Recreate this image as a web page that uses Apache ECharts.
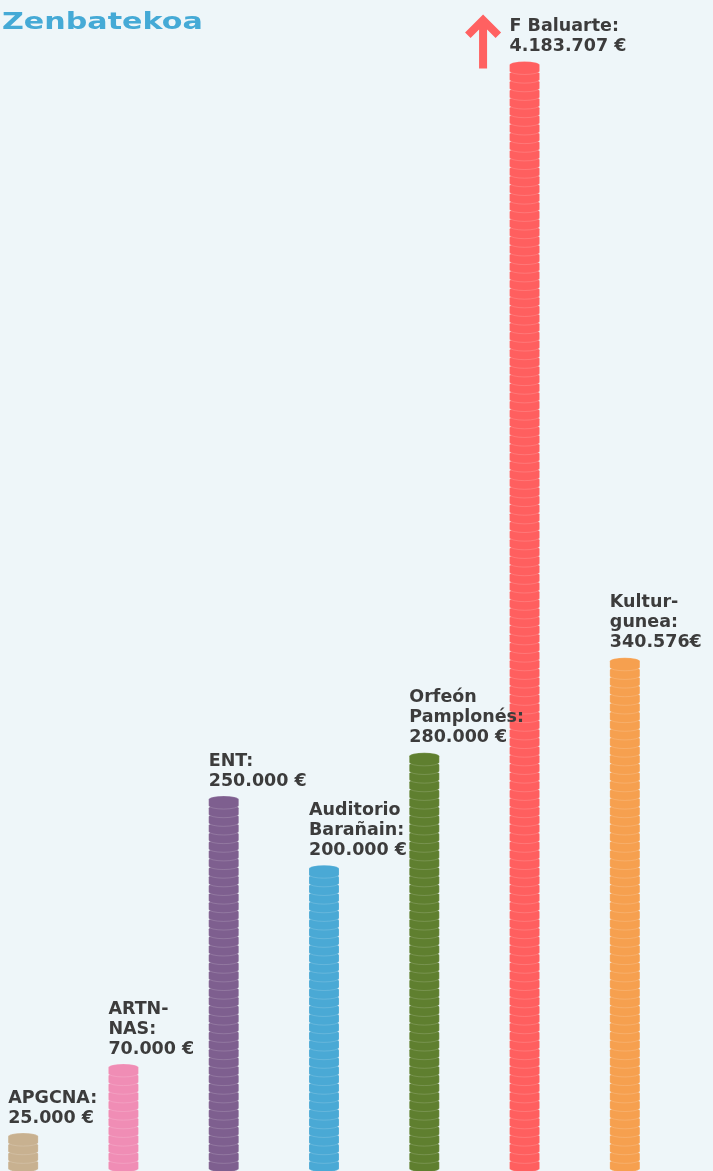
<!DOCTYPE html>
<html>
<head>
<meta charset="utf-8">
<script src="https://cdn.jsdelivr.net/npm/echarts@6/dist/echarts.min.js"></script>
<style>
html,body{margin:0;padding:0;background:#eef6f9;}
#chart{width:713px;height:1171px;}
</style>
</head>
<body>
<div id="chart"></div>
<script>
// ---- data ----
const categories = ['APGCNA', 'ARTNNAS', 'ENT', 'Auditorio Barañain', 'Orfeón Pamplonés', 'F Baluarte', 'Kulturgunea'];
const values = [25000, 70000, 250000, 200000, 280000, 4183707, 340576];
const labelTexts = [
  'APGCNA:\n25.000 €',
  'ARTN-\nNAS:\n70.000 €',
  'ENT:\n250.000 €',
  'Auditorio\nBarañain:\n200.000 €',
  'Orfeón\nPamplonés:\n280.000 €',
  'F Baluarte:\n4.183.707 €',
  'Kultur-\ngunea:\n340.576€'
];
const titleText = 'Zenbatekoa';
const axisMax = 781000;
const breakValue = 740000; // stacks taller than this are cut and marked with an arrow

// ---- styles ----
const colors = ['#c8b190', '#f08db5', '#7e5f8f', '#4aa9d5', '#5f7f2f', '#ff5f5f', '#f6a04f'];
// a coin seen from the side: top ellipse + edge
const coinPath = 'path://M0,3.5 A14.5,3.5 0 0,1 29,3.5 L29,9.5 A14.5,3.5 0 0,1 0,9.5 Z';
const arrowPath = 'path://M18,0 L36,18 L30.5,23.5 L22,15 L22,54 L14,54 L14,15 L5.5,23.5 L0,18 Z';

const chart = echarts.init(document.getElementById('chart'), null, {renderer: 'canvas'});

const seriesData = values.map((v, i) => ({
  value: Math.min(v, breakValue),
  itemStyle: {color: colors[i]}
}));

const option = {
  backgroundColor: '#eef6f9',
  animation: false,
  grid: {left: -27, right: 38, top: 0, bottom: -2, outerBoundsMode: 'none', containLabel: false},
  xAxis: {type: 'category', data: categories, show: false},
  yAxis: {type: 'value', min: 0, max: axisMax, show: false},
  graphic: [{
    type: 'text',
    x: 2,
    y: 12,
    scaleX: 1.31,
    style: {
      text: titleText,
      fontFamily: 'DejaVu Sans',
      fontWeight: 'bold',
      fontSize: 23,
      fill: '#45aad6',
      verticalAlign: 'top'
    }
  }],
  series: [{
    type: 'pictorialBar',
    data: seriesData,
    symbol: coinPath,
    symbolSize: [30, 13],
    symbolRepeat: true,
    symbolMargin: -3.15,
    symbolClip: false,
    itemStyle: {borderColor: '#ffffff', borderWidth: 3},
    label: {
      show: true,
      position: 'top',
      align: 'left',
      offset: [-15, 0],
      distance: 4,
      formatter: p => labelTexts[p.dataIndex],
      fontFamily: 'DejaVu Sans',
      fontWeight: 'bold',
      fontSize: 17.5,
      lineHeight: 20,
      color: '#3c3c3c'
    },
    markPoint: {
      silent: true,
      symbol: arrowPath,
      symbolSize: [36, 54],
      symbolOffset: [-41.5, -20],
      itemStyle: {color: '#ff6161'},
      label: {show: false},
      data: values.map((v, i) => v > breakValue ? {coord: [categories[i], breakValue]} : null).filter(Boolean)
    }
  }]
};
chart.setOption(option);
</script>
</body>
</html>
